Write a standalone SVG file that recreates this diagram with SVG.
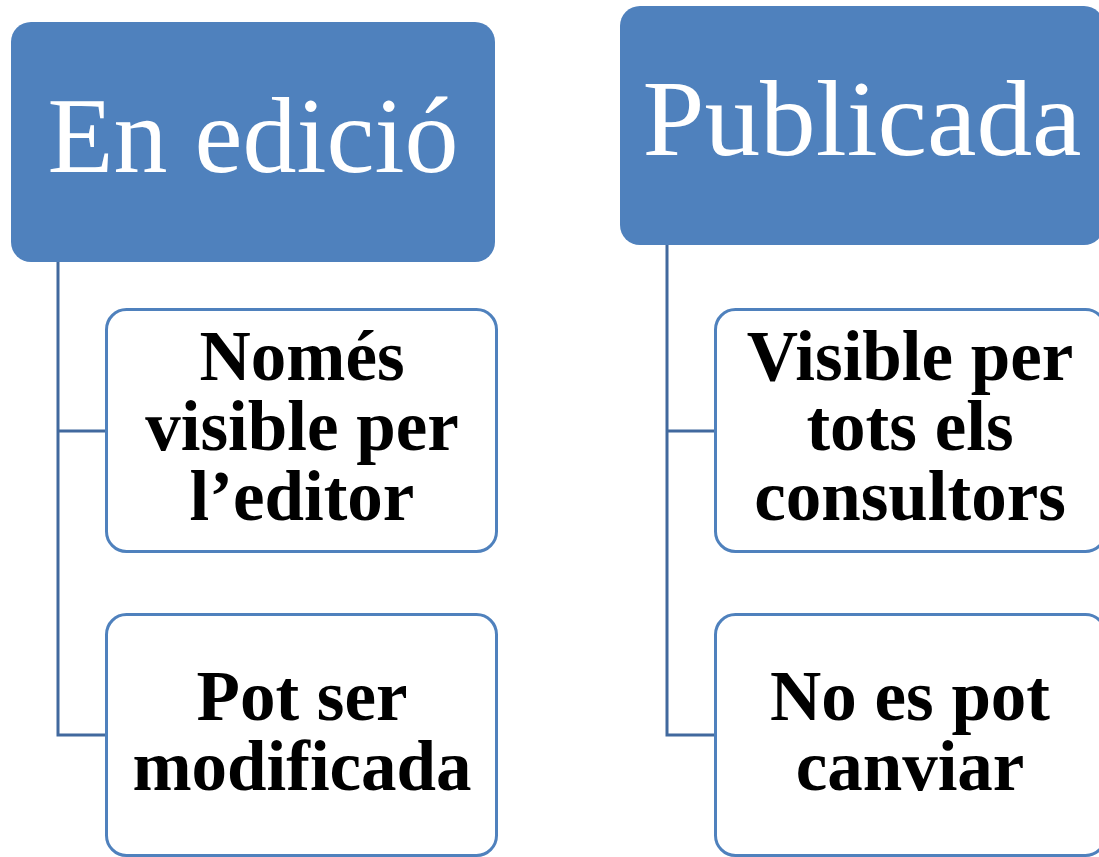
<svg xmlns="http://www.w3.org/2000/svg" width="1099" height="857" viewBox="0 0 1099 857">
<style>
.hdr{fill:#4F81BD;}
.hdr-t{font-family:"Liberation Serif","DejaVu Serif",serif;font-size:108px;fill:#FFFFFF;text-anchor:middle;}
.child{fill:#FFFFFF;stroke:#4F81BD;stroke-width:3;}
.child-t{font-family:"Liberation Serif","DejaVu Serif",serif;font-size:71px;font-weight:bold;fill:#000000;text-anchor:middle;}
.conn{fill:none;stroke:#41699E;stroke-width:3;}
</style>
<rect width="1099" height="857" fill="#FFFFFF"/>
<g id="connectors">
<path class="conn" d="M58,262 V735 H106 M58,431 H106"/>
<path class="conn" d="M667,245 V735 H715 M667,431 H715"/>
</g>
<g id="node-en-edicio">
<rect class="hdr" x="11" y="22" width="484" height="240" rx="20"/>
<text class="hdr-t" x="253" y="172">En edició</text>
</g>
<g id="node-publicada">
<rect class="hdr" x="620" y="6" width="484" height="239" rx="20"/>
<text class="hdr-t" x="862" y="155" textLength="439" lengthAdjust="spacingAndGlyphs">Publicada</text>
</g>
<g id="node-nomes-visible">
<rect class="child" x="106.5" y="309.5" width="390" height="242" rx="20"/>
<text class="child-t" x="302" y="380">Només</text>
<text class="child-t" x="302" y="450">visible per</text>
<text class="child-t" x="302" y="520">l’editor</text>
</g>
<g id="node-pot-ser">
<rect class="child" x="106.5" y="614.5" width="390" height="241" rx="20"/>
<text class="child-t" x="302" y="720">Pot ser</text>
<text class="child-t" x="302" y="790">modificada</text>
</g>
<g id="node-visible-tots">
<rect class="child" x="715.5" y="309.5" width="390" height="242" rx="20"/>
<text class="child-t" x="910" y="380">Visible per</text>
<text class="child-t" x="910" y="450">tots els</text>
<text class="child-t" x="910" y="520">consultors</text>
</g>
<g id="node-no-es-pot">
<rect class="child" x="715.5" y="614.5" width="390" height="241" rx="20"/>
<text class="child-t" x="910" y="720">No es pot</text>
<text class="child-t" x="910" y="790">canviar</text>
</g>
</svg>
